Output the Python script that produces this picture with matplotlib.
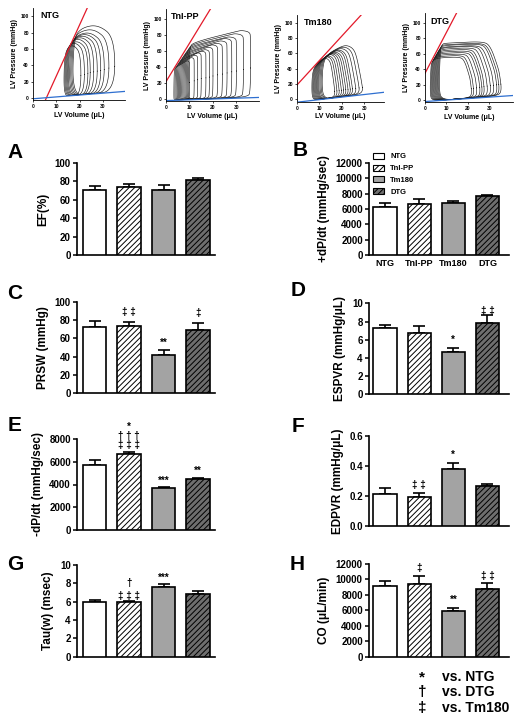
import numpy as np
import matplotlib
matplotlib.use('Agg')
import matplotlib.pyplot as plt
from matplotlib.patches import Patch

plt.rcParams['font.family'] = ['Liberation Sans', 'DejaVu Sans']
plt.rcParams['font.weight'] = 'bold'
plt.rcParams['axes.labelweight'] = 'bold'
plt.rcParams['hatch.linewidth'] = 0.7

# ---------------- data ----------------
groups = ['NTG', 'TnI-PP', 'Tm180', 'DTG']

# PV loops: end-systolic volume, end-diastolic volume, peak pressure per loop
ntg_esv = [13.4, 13.8, 14.2, 14.6, 15.0, 15.4, 15.9, 16.4, 16.9, 17.4]
ntg_edv = [20.5, 22.0, 23.5, 24.5, 26.0, 27.5, 29.0, 30.5, 32.5, 35.0]
ntg_pmax = [65, 68, 70, 73, 75, 77, 79, 81, 85, 90]
ntg_espvr = (-36.0, 6.3)     # intercept, slope
ntg_edpvr = (-1.0, 0.23)

tnipp_esv = [3.5, 4.0, 4.5, 5.0, 5.5, 6.0, 6.5, 7.0, 7.5, 8.0, 8.5, 9.0, 9.5, 10.0]
tnipp_edv = [10.0, 12.0, 13.5, 15.0, 17.0, 18.5, 20.0, 22.0, 24.0, 26.0, 28.0, 30.0, 33.0, 36.0]
tnipp_pmax = [48, 52, 55, 58, 60, 62, 65, 68, 70, 73, 76, 78, 82, 86]
tnipp_espvr = (21.7, 4.8)
tnipp_edpvr = (-2.0, 0.1)

tm180_esv = [6.8, 7.2, 7.6, 8.0, 8.4, 8.8, 9.2, 9.6, 10.0, 10.5, 11.0, 11.5]
tm180_edv = [17.0, 18.0, 19.0, 20.0, 21.0, 22.0, 23.0, 24.0, 25.0, 26.5, 28.0, 29.5]
tm180_pmax = [55, 57, 58, 60, 61, 62, 63, 65, 66, 68, 70, 72]
tm180_espvr = (18.7, 3.2)
tm180_edpvr = (-3.8, 0.334)

dtg_esv = [2.8, 3.2, 3.6, 4.0, 4.4, 4.8, 5.2, 5.6, 6.0, 6.4, 6.8, 7.2]
dtg_edv = [22.0, 23.0, 24.5, 26.0, 27.0, 28.0, 29.5, 31.0, 32.5, 34.0, 35.0, 36.0]
dtg_pmax = [56, 58, 60, 62, 64, 66, 68, 70, 71, 73, 74, 76]
dtg_espvr = (34.5, 5.3)
dtg_edpvr = (-2.0, 0.19)

# bar panels: means and SEM
ef_mean = [70.3, 73.9, 70.6, 81.2]
ef_err = [4.4, 2.9, 5.1, 2.5]
dpdtmax_mean = [6300, 6690, 6780, 7650]
dpdtmax_err = [440, 580, 300, 220]
prsw_mean = [72.7, 73.8, 41.5, 69.1]
prsw_err = [6.6, 4.0, 5.4, 8.0]
espvr_mean = [7.25, 6.7, 4.68, 7.8]
espvr_err = [0.35, 0.77, 0.41, 0.9]
dpdtmin_mean = [5740, 6650, 3690, 4480]
dpdtmin_err = [410, 210, 120, 90]
edpvr_mean = [0.213, 0.19, 0.379, 0.266]
edpvr_err = [0.042, 0.03, 0.038, 0.011]
tau_mean = [6.0, 5.93, 7.56, 6.8]
tau_err = [0.15, 0.11, 0.34, 0.37]
co_mean = [9200, 9380, 5900, 8770]
co_err = [570, 1030, 400, 740]

# significance marks: (bar index, y in data units, text)
prsw_marks = [(1, 89, '‡ ‡'), (2, 55, '**'), (3, 87.7, '‡')]
espvr_marks = [(2, 6.0, '*'), (3, 9.1, '‡ ‡')]
dpdtmin_marks = [(1, 9080, '*'), (1, 8260, '† † †'), (1, 7470, '‡ ‡ ‡'),
                 (2, 4280, '***'), (3, 5210, '**')]
edpvr_marks = [(1, 0.272, '‡ ‡'), (2, 0.472, '*')]
tau_marks = [(1, 8.07, '†'), (1, 6.62, '‡ ‡ ‡'), (2, 8.55, '***')]
co_marks = [(1, 11450, '‡'), (2, 7340, '**'), (3, 10450, '‡ ‡')]

faces = ['white', 'white', '#a3a3a3', '#6e6e6e']
hatches = ['', '//////', '', '//////']

# ---------------- figure ----------------
W, H = 514, 718
fig = plt.figure(figsize=(W / 100, H / 100), dpi=100)


def px_axes(x0, y0, x1, y1):
    return fig.add_axes([x0 / W, 1 - y1 / H, (x1 - x0) / W, (y1 - y0) / H])


def chaikin(pts, n=3):
    for _ in range(n):
        b = np.roll(pts, -1, axis=0)
        q = 0.75 * pts + 0.25 * b
        r = 0.25 * pts + 0.75 * b
        new = np.empty((2 * len(pts), 2))
        new[0::2] = q
        new[1::2] = r
        pts = new
    return pts


def make_loop(esv, edv, pmax, red, blue, shape, corner):
    w = edv - esv
    edp = blue[0] + blue[1] * edv + 1.0
    pmin = blue[0] + blue[1] * esv + 0.5
    pes = red[0] + red[1] * esv
    pts = [(edv, edp)] + [(esv + fx * w, fy * pmax) for fx, fy in shape]
    pts += [(esv, pes), (esv - 0.03 * w, pmin),
            (esv + 0.4 * w, blue[0] + blue[1] * (esv + 0.4 * w) + 0.3)]
    pts = np.array(pts, dtype=float)
    b = np.roll(pts, -1, axis=0)
    ref = np.empty((2 * len(pts), 2))
    ref[0::2] = pts + corner * (b - pts)
    ref[1::2] = pts + (1 - corner) * (b - pts)
    sm = chaikin(ref, 3)
    return np.vstack([sm, sm[:1]])


def pv_panel(box, xlim, ylim, title, tpos, esv, edv, pmax, red, blue, shape, corner):
    ax = px_axes(*box)
    for e, d, p in zip(esv, edv, pmax):
        L = make_loop(e, d, p, red, blue, shape, corner)
        ax.plot(L[:, 0], L[:, 1], color='#1a1a1a', lw=0.45)
    xx = np.linspace(xlim[0], xlim[1], 100)
    ax.plot(xx, red[0] + red[1] * xx, color='#e31a2a', lw=0.9)
    ax.plot(xx, blue[0] + blue[1] * xx, color='#2e6fd0', lw=0.9)
    ax.set_xlim(xlim)
    ax.set_ylim(ylim)
    ax.set_xticks([0, 10, 20, 30])
    ax.set_yticks([0, 20, 40, 60, 80, 100])
    for s in ['top', 'right']:
        ax.spines[s].set_visible(False)
    for s in ['left', 'bottom']:
        ax.spines[s].set_linewidth(0.6)
    ax.tick_params(labelsize=3.5, length=1.5, width=0.5, pad=1.5)
    ax.set_xlabel('LV Volume (μL)', fontsize=5, labelpad=2)
    ax.set_ylabel('LV Pressure (mmHg)', fontsize=5, labelpad=2)
    ax.text(tpos[0], tpos[1], title, transform=ax.transAxes, fontsize=6.5,
            fontweight='bold', ha='left', va='center')
    return ax


pv_panel((33, 8, 125, 100), (0, 39.4), (-2.5, 110.4), 'NTG', (0.076, 0.92),
         ntg_esv, ntg_edv, ntg_pmax, ntg_espvr, ntg_edpvr,
         [(1.0, 0.82), (0.6, 1.0), (0.2, 0.96)], 0.25)
pv_panel((166, 9, 259, 101), (0, 39.6), (-2.5, 112.5), 'TnI-PP', (0.05, 0.92),
         tnipp_esv, tnipp_edv, tnipp_pmax, tnipp_espvr, tnipp_edpvr,
         [(1.0, 0.97), (0.85, 1.0)], 0.08)
pv_panel((297, 15, 384, 101.5), (0, 38.7), (-2.9, 110), 'Tm180', (0.08, 0.91),
         tm180_esv, tm180_edv, tm180_pmax, tm180_espvr, tm180_edpvr,
         [(0.95, 0.35), (0.8, 0.9), (0.55, 1.0)], 0.2)
pv_panel((425, 13, 513, 102), (0, 41), (-2.6, 112.5), 'DTG', (0.057, 0.91),
         dtg_esv, dtg_edv, dtg_pmax, dtg_espvr, dtg_edpvr,
         [(0.95, 0.5), (0.78, 1.0), (0.15, 0.97)], 0.15)


def bar_panel(box, xlim, means, errs, ylim, yticks, ylabel, letter, lpos,
              marks=(), fmt=None):
    ax = px_axes(*box)
    x = np.arange(len(groups))
    for i in range(len(groups)):
        ax.bar(x[i], means[i], width=0.68, color=faces[i], edgecolor='black',
               hatch=hatches[i], linewidth=1.2, zorder=3)
        ax.errorbar(x[i], means[i], yerr=[[0], [errs[i]]], fmt='none',
                    ecolor='black', elinewidth=1.2, capsize=4, capthick=1.2,
                    zorder=2)
    ax.set_xlim(xlim)
    ax.set_ylim(ylim)
    ax.set_yticks(yticks)
    if fmt:
        ax.set_yticklabels([fmt.format(t) for t in yticks])
    ax.set_xticks([])
    for s in ['top', 'right']:
        ax.spines[s].set_visible(False)
    for s in ['left', 'bottom']:
        ax.spines[s].set_linewidth(1.2)
    ax.tick_params(axis='y', labelsize=7, length=3, width=1.1, pad=1.5)
    ax.set_ylabel(ylabel, fontsize=8.5, labelpad=4)
    for i, y, t in marks:
        ax.text(x[i], y, t, ha='center', va='center', fontsize=7,
                fontweight='bold', clip_on=False)
    fig.text(lpos[0] / W, 1 - lpos[1] / H, letter, fontsize=15,
             fontweight='bold', ha='center', va='center')
    return ax


LX = (-0.51, 3.49)
RX = (-0.47, 3.63)

bar_panel((77, 163, 215, 255), LX, ef_mean, ef_err, (0, 100),
          [0, 20, 40, 60, 80, 100], 'EF(%)', 'A', (15, 153))
axB = bar_panel((369, 163, 509, 255), RX, dpdtmax_mean, dpdtmax_err, (0, 12000),
                [0, 2000, 4000, 6000, 8000, 10000, 12000],
                '+dP/dt (mmHg/sec)', 'B', (300, 151))
axB.set_xticks(np.arange(4))
axB.set_xticklabels(groups, fontsize=6.5, fontweight='bold')
axB.tick_params(axis='x', length=0, pad=3)
handles = [Patch(facecolor=faces[i], edgecolor='black', hatch=hatches[i],
                 linewidth=0.8, label=groups[i]) for i in range(4)]
axB.legend(handles=handles, loc='upper left', bbox_to_anchor=(0.03, 1.11),
           frameon=False, fontsize=5.5, handlelength=1.4, handleheight=0.8,
           handletextpad=0.8, labelspacing=0.55, borderpad=0, borderaxespad=0)

bar_panel((77, 301.7, 215, 393.3), LX, prsw_mean, prsw_err, (0, 100),
          [0, 20, 40, 60, 80, 100], 'PRSW (mmHg)', 'C', (15, 293), prsw_marks)
bar_panel((369, 303.3, 509, 394.3), RX, espvr_mean, espvr_err, (0, 10),
          [0, 2, 4, 6, 8, 10], 'ESPVR (mmHg/μL)', 'D', (298, 291), espvr_marks)
bar_panel((77, 439, 215, 530), LX, dpdtmin_mean, dpdtmin_err, (0, 8000),
          [0, 2000, 4000, 6000, 8000], '-dP/dt (mmHg/sec)', 'E', (15, 425),
          dpdtmin_marks)
bar_panel((369, 435.7, 509, 526), RX, edpvr_mean, edpvr_err, (0, 0.6),
          [0, 0.2, 0.4, 0.6], 'EDPVR (mmHg/μL)', 'F', (298, 427), edpvr_marks,
          fmt='{:.1f}')
bar_panel((77, 565, 215, 656.7), LX, tau_mean, tau_err, (0, 10),
          [0, 2, 4, 6, 8, 10], 'Tau(w) (msec)', 'G', (15, 565), tau_marks)
bar_panel((369, 564, 509, 656.7), RX, co_mean, co_err, (0, 12000),
          [0, 2000, 4000, 6000, 8000, 10000, 12000], 'CO (μL/min)', 'H',
          (297, 565), co_marks)

# footnote legend for symbols
for sym, lab, yy in [('*', 'vs. NTG', 677), ('†', 'vs. DTG', 692), ('‡', 'vs. Tm180', 708)]:
    fig.text(422 / W, 1 - yy / H, sym, fontsize=11, fontweight='bold',
             ha='center', va='center')
    fig.text(442 / W, 1 - yy / H, lab, fontsize=10, fontweight='bold',
             ha='left', va='center')

fig.savefig('out.png', dpi=100)
